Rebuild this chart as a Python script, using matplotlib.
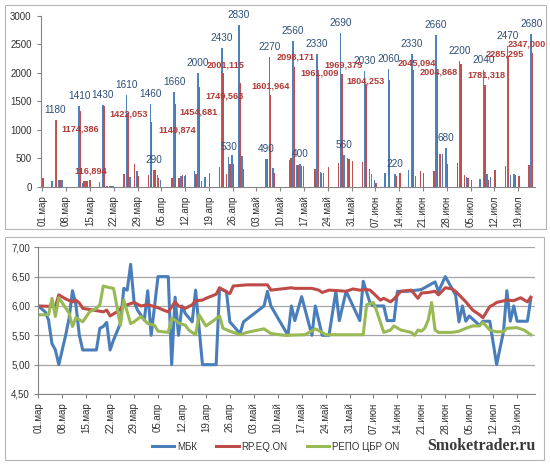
import numpy as np
import matplotlib
matplotlib.use('Agg')
import matplotlib.pyplot as plt
from matplotlib.patches import Rectangle
from matplotlib.ticker import FuncFormatter

plt.rcParams['font.family'] = ['Liberation Sans', 'DejaVu Sans']

# x values are days counted from 01.03
tick_labels = ['01.мар', '08.мар', '15.мар', '22.мар', '29.мар', '05.апр', '12.апр',
               '19.апр', '26.апр', '03.май', '10.май', '17.май', '24.май', '31.май',
               '07.июн', '14.июн', '21.июн', '28.июн', '05.июл', '12.июл', '19.июл']

# ---- top chart: repo auctions, limit (blue) vs demand (red)
bar_day = [0, 3, 4, 5, 6, 11, 12, 13, 14, 17, 18, 19, 20, 21, 24, 25, 26, 27, 28, 31,
           32, 33, 34, 35, 38, 39, 40, 41, 42, 45, 46, 47, 48, 49, 52, 53, 54, 55, 56, 58,
           59, 66, 67, 68, 73, 74, 75, 76, 77, 80, 81, 82, 83, 84, 87, 88, 89, 90, 91, 94,
           95, 96, 97, 98, 101, 102, 104, 105, 108, 109, 110, 111, 112, 115, 116, 117, 118, 119, 122, 123,
           124, 125, 126, 129, 130, 131, 132, 133, 136, 137, 138, 139, 140, 143, 144]
limit = [0, 100, 1180, 120, 130, 1410, 70, 110, 130, 90, 1430, 15, 10, 10, 230, 1610, 175, 0, 275, 0,
         1460, 290, 210, 130, 0, 1660, 0, 200, 200, 275, 2000, 110, 170, 0, 0, 2430, 0, 530, 560, 2830,
         540, 490, 2270, 335, 480, 2560, 390, 400, 370, 0, 2330, 260, 250, 0, 0, 2690, 560, 500, 0, 0,
         2030, 0, 230, 120, 250, 2060, 220, 0, 300, 2330, 190, 0, 0, 0, 2660, 580, 580, 680, 0, 2200,
         0, 175, 0, 140, 2040, 220, 175, 0, 0, 2470, 210, 220, 0, 0, 2680]
demand = [165, 0, 1174.386, 125, 0, 1335, 100, 100, 116.894, 0, 1422.053, 15, 10, 0, 220, 1300, 0, 410, 190, 205,
          1140.874, 290, 150, 0, 160, 1454.681, 150, 210, 205, 220, 1749.563, 0, 0, 250, 350, 2001.115, 220, 410, 400, 1820,
          320, 490, 1601.964, 250, 510, 2098.171, 380, 375, 0, 320, 1961.009, 250, 0, 345, 420, 1969.375, 0, 490, 455, 430,
          1804.253, 320, 0, 70, 0, 1866, 200, 245, 0, 2045.094, 0, 280, 250, 275, 2004.868, 580, 0, 410, 420, 2150,
          215, 150, 120, 0, 1781.318, 120, 0, 290, 365, 2285.295, 0, 215, 200, 390, 2347.000]

limit_label_days = [4, 11, 18, 25, 32, 33, 39, 46, 53, 55, 58, 66, 67, 74, 76, 81, 88, 89,
                    95, 102, 104, 109, 116, 119, 123, 130, 137, 144]
demand_label_days = [4, 14, 18, 32, 39, 46, 53, 67, 74, 81, 88, 95, 109, 116, 130, 137, 144]

# ---- bottom chart: overnight rates, %
mbk_day = [0, 2, 3, 4, 5, 6, 8, 9, 10, 11, 12, 13, 17, 18, 19, 20, 21, 22, 24, 25,
           26, 27, 28, 29, 31, 32, 33, 35, 38, 39, 40, 41, 42, 43, 45, 46, 48, 52, 53, 55,
           56, 59, 60, 66, 67, 68, 73, 74, 75, 77, 80, 81, 83, 85, 87, 88, 90, 94, 95, 97,
           98, 101, 102, 104, 105, 108, 112, 116, 117, 119, 122, 123, 124, 125, 126, 129, 130, 132, 134, 136,
           137, 138, 139, 140, 143, 144]
mbk = [6.00, 5.90, 5.76, 5.36, 5.25, 5.00, 5.50, 5.79, 6.26, 6.02, 5.50, 5.25, 5.25, 5.62, 5.65, 5.72, 5.25, 5.42, 5.70, 6.30,
       6.27, 6.71, 6.07, 5.93, 5.76, 6.26, 5.50, 6.50, 6.50, 5.00, 6.15, 5.50, 6.00, 5.87, 5.73, 6.27, 5.00, 5.00, 6.30, 6.25,
       5.73, 5.53, 5.73, 6.00, 6.25, 6.00, 5.50, 6.00, 5.75, 6.16, 5.50, 6.00, 5.50, 5.50, 6.25, 5.75, 6.25, 5.75, 6.42, 6.05,
       6.00, 6.00, 5.75, 5.75, 6.25, 6.25, 6.28, 6.41, 6.25, 6.50, 6.19, 5.73, 6.00, 5.74, 5.83, 5.67, 5.74, 5.74, 5.00, 5.56,
       6.26, 5.74, 6.00, 5.74, 5.74, 6.13]

rp_day = [0, 5, 6, 8, 10, 11, 12, 13, 16, 19, 20, 21, 23, 25, 28, 30, 32, 34, 35, 37,
          38, 40, 41, 43, 45, 46, 48, 49, 52, 53, 55, 56, 57, 59, 61, 67, 68, 71, 74, 75,
          80, 82, 83, 85, 88, 90, 92, 94, 96, 97, 99, 100, 101, 103, 104, 106, 109, 111, 112, 114,
          116, 117, 119, 121, 122, 125, 127, 129, 130, 132, 133, 134, 137, 139, 141, 143, 144]
rp_eq = [6.00, 5.99, 6.19, 6.12, 6.07, 6.10, 6.05, 5.96, 5.93, 5.90, 5.93, 5.83, 5.90, 6.00, 6.06, 6.00, 6.02, 5.99, 5.97, 5.92,
         5.90, 6.07, 6.00, 5.96, 6.02, 6.09, 6.10, 6.13, 6.20, 6.31, 6.24, 6.21, 6.34, 6.35, 6.36, 6.36, 6.27, 6.29, 6.31, 6.30,
         6.30, 6.27, 6.23, 6.27, 6.26, 6.25, 6.29, 6.27, 6.28, 6.27, 6.16, 6.10, 6.13, 6.07, 6.12, 6.25, 6.27, 6.13, 6.22, 6.23,
         6.25, 6.19, 6.31, 6.29, 6.25, 6.07, 5.93, 5.85, 5.80, 5.99, 6.02, 6.06, 6.10, 6.09, 6.14, 6.07, 6.15]

repo_day = [0, 3, 4, 5, 6, 9, 10, 11, 13, 15, 17, 18, 19, 21, 22, 23, 24, 25, 27, 28,
            30, 32, 34, 35, 38, 39, 40, 41, 43, 44, 46, 47, 49, 51, 53, 54, 56, 57, 59, 61,
            66, 68, 72, 78, 81, 83, 84, 95, 96, 98, 99, 101, 103, 104, 106, 109, 110, 111, 112, 113,
            114, 115, 116, 117, 121, 123, 125, 127, 129, 130, 132, 134, 136, 137, 140, 142, 144]
repo_cbr = [5.85, 5.85, 6.13, 5.82, 6.14, 5.88, 5.65, 5.80, 5.73, 5.90, 5.96, 6.02, 6.34, 6.31, 6.30, 5.99, 5.67, 6.10, 5.70, 5.73,
            5.82, 5.70, 5.67, 5.57, 5.55, 5.79, 5.76, 5.71, 5.67, 5.59, 5.51, 5.85, 5.66, 5.74, 5.83, 5.62, 5.57, 5.55, 5.51, 5.55,
            5.61, 5.53, 5.50, 5.51, 5.61, 5.55, 5.51, 5.51, 6.02, 6.06, 5.90, 5.55, 5.59, 5.66, 5.59, 5.55, 5.50, 5.59, 5.57, 5.62,
            5.76, 6.06, 5.59, 5.55, 5.55, 5.57, 5.62, 5.66, 5.66, 5.72, 5.59, 5.56, 5.56, 5.62, 5.63, 5.59, 5.51]

# label placement for the red values (pixels from the bar top)
demand_label_dx = [24, 0, 24, 25, 23, 25, 2, 0, 1, 1, 1, 0, 3, 1, 2, -4, -6]
demand_label_dy = [-9, 9, -8, -8, -8, -9, 8, 9, 10, 2, 9, 3, 7, 0, 10, 2, 9]

BLUE = '#4F81BD'
RED = '#C0504D'
AXIS = '#868686'
tick_pos = np.arange(0, 141, 7)

fig = plt.figure(figsize=(5.5, 4.65), dpi=100)

# frames around the two charts
fig.add_artist(Rectangle((5 / 550, 1 - 229 / 465), 541 / 550, 224 / 465, transform=fig.transFigure,
                         fill=False, ec='#B5B5B5', lw=0.8))
fig.add_artist(Rectangle((5 / 550, 1 - 460 / 465), 539 / 550, 223 / 465, transform=fig.transFigure,
                         fill=False, ec='#B5B5B5', lw=0.8))

# ---------------- top chart
ax1 = fig.add_axes([0.0751, 0.598, 0.898, 0.3684])
bd = np.array(bar_day, dtype=float)
ax1.bar(bd - 0.2, limit, width=0.42, color=BLUE, linewidth=0)
ax1.bar(bd + 0.2, demand, width=0.42, color=RED, linewidth=0)
ax1.set_xlim(-0.3, 145)
ax1.set_ylim(0, 3000)
ax1.set_yticks(np.arange(0, 3001, 500))
ax1.set_xticks(tick_pos)
ax1.set_xticklabels(tick_labels, rotation=90, fontsize=7, color='#333333')
ax1.tick_params(axis='y', labelsize=7, labelcolor='#333333', length=3, color=AXIS, pad=4)
ax1.tick_params(axis='x', length=3, color=AXIS, pad=3)
for s in ['top', 'right']:
    ax1.spines[s].set_visible(False)
for s in ['left', 'bottom']:
    ax1.spines[s].set_color(AXIS)
    ax1.spines[s].set_linewidth(0.8)

for d in limit_label_days:
    v = limit[bar_day.index(d)]
    ax1.annotate(str(v), (d - 0.2, v), xytext=(0, 10), textcoords='offset pixels',
                 ha='center', va='center', fontsize=7.2, color='#2E4F78', annotation_clip=False)

for d, dx, dy in zip(demand_label_days, demand_label_dx, demand_label_dy):
    v = demand[bar_day.index(d)]
    txt = f'{v:.3f}'.replace('.', ',')
    ax1.annotate(txt, (d + 0.2, v), xytext=(dx, dy), textcoords='offset pixels',
                 ha='center', va='center', fontsize=6.6, fontweight='bold', color='#B23A36',
                 annotation_clip=False)

# ---------------- bottom chart
ax2 = fig.add_axes([0.0696, 0.1527, 0.903, 0.3155])
l1, = ax2.plot(mbk_day, mbk, color='#4A7EBB', lw=2.2, solid_joinstyle='round')
l2, = ax2.plot(rp_day, rp_eq, color='#BE4B48', lw=2.2, solid_joinstyle='round')
l3, = ax2.plot(repo_day, repo_cbr, color='#98B954', lw=2.2, solid_joinstyle='round')
ax2.set_xlim(0, 145.2)
ax2.set_ylim(4.5, 7.0)
ax2.set_yticks(np.arange(4.5, 7.01, 0.5))
ax2.yaxis.set_major_formatter(FuncFormatter(lambda y, _: f'{y:.2f}'.replace('.', ',')))
ax2.set_xticks(tick_pos)
ax2.set_xticklabels(tick_labels, rotation=90, fontsize=7, color='#333333')
ax2.tick_params(axis='y', labelsize=7, labelcolor='#333333', length=3, color=AXIS, pad=3)
ax2.tick_params(axis='x', length=3, color=AXIS, pad=3)
ax2.grid(axis='y', color='#A6A6A6', lw=0.9)
ax2.set_axisbelow(True)
for s in ['top', 'right']:
    ax2.spines[s].set_visible(False)
for s in ['left', 'bottom']:
    ax2.spines[s].set_color(AXIS)
    ax2.spines[s].set_linewidth(0.8)

fig.legend([l1, l2, l3], ['МБК', 'RP.EQ.ON', 'РЕПО ЦБР ON'], loc='center',
           bbox_to_anchor=(0.501, 0.039), ncol=3, frameon=False, fontsize=7,
           handlelength=2.3, handletextpad=0.3, columnspacing=2.0, labelcolor='#333333')

fig.text(0.875, 0.040, 'Smoketrader.ru', fontsize=11.5, fontweight='bold',
         family='Liberation Serif', color='#3A3A3A', ha='center', va='center')

fig.savefig('out.png', dpi=100)
